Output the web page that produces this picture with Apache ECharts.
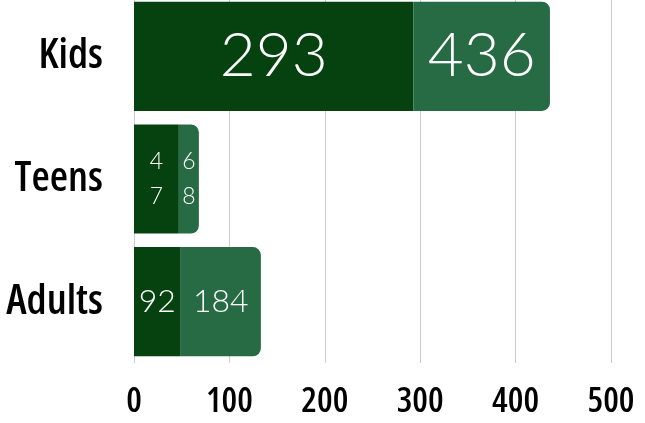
<!DOCTYPE html>
<html>
<head>
<meta charset="utf-8">
<script src="https://cdn.jsdelivr.net/npm/echarts@6/dist/echarts.min.js"></script>
<style>
  html, body { margin: 0; padding: 0; background: #fff; }
  #main { width: 645px; height: 423px; }
</style>
</head>
<body>
<div id="main"></div>
<script>
// chart data
var categories = ['Kids', 'Teens', 'Adults'];
var darkValues = [293, 47, 49];
var totalValues = [436, 68, 133];
var darkLabels = ['293', '47', '92'];
var lightLabels = ['436', '68', '184'];
var xTicks = [0, 100, 200, 300, 400, 500];

// light part is stacked on top of the dark part
var lightValues = [];
for (var i = 0; i < totalValues.length; i++) {
  lightValues.push(totalValues[i] - darkValues[i]);
}

var labelSizes = [62, 23, 32];
var labelWidths = [null, 16, null];

function makeData(values, texts, radius) {
  var out = [];
  for (var i = 0; i < values.length; i++) {
    var lbl = {
      formatter: texts[i],
      fontSize: labelSizes[i],
      lineHeight: i == 1 ? 35 : labelSizes[i] * 1.2
    };
    if (labelWidths[i]) {
      lbl.width = labelWidths[i];
      lbl.overflow = 'breakAll';
    }
    out.push({ value: values[i], label: lbl, itemStyle: radius ? { borderRadius: [0, 8, 8, 0] } : {} });
  }
  return out;
}

var axisFont = '"Open Sans", "DejaVu Sans Condensed", sans-serif';

var myChart = echarts.init(document.getElementById('main'));

var option = {
  animation: false,
  grid: { left: 134, right: 34, top: -5, bottom: 60, containLabel: false, outerBoundsMode: 'none' },
  xAxis: {
    type: 'value',
    min: xTicks[0],
    max: xTicks[xTicks.length - 1],
    interval: 100,
    axisLine: { show: false },
    axisTick: { show: false },
    splitLine: { lineStyle: { color: '#cccccc', width: 1 } },
    axisLabel: {
      color: '#000',
      fontFamily: axisFont,
      fontWeight: '600 condensed',
      fontSize: 35,
      margin: 22
    }
  },
  yAxis: {
    type: 'category',
    inverse: true,
    data: categories,
    axisLine: { show: false },
    axisTick: { show: false },
    axisLabel: {
      color: '#000',
      fontFamily: axisFont,
      fontWeight: '600 condensed',
      fontSize: 42,
      margin: 31
    }
  },
  series: [{
    type: 'bar',
    stack: 'all',
    barCategoryGap: '11%',
    data: makeData(darkValues, darkLabels, false),
    itemStyle: { color: '#05420f' },
    label: {
      show: true,
      position: 'inside',
      color: '#fff',
      fontFamily: 'Lato, "Open Sans", sans-serif',
      fontWeight: 300
    }
  }, {
    type: 'bar',
    stack: 'all',
    data: makeData(lightValues, lightLabels, true),
    itemStyle: { color: '#276b44' },
    label: {
      show: true,
      position: 'inside',
      color: '#fff',
      fontFamily: 'Lato, "Open Sans", sans-serif',
      fontWeight: 300
    }
  }]
};

myChart.setOption(option);
</script>
</body>
</html>
